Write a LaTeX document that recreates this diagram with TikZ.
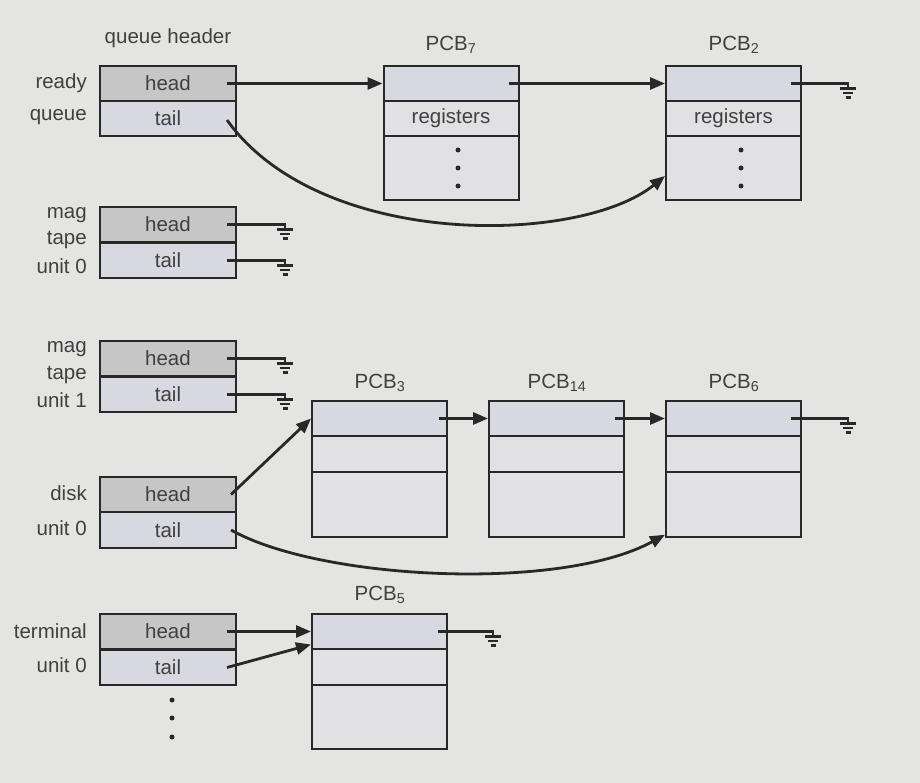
\documentclass[tikz,border=0pt]{standalone}
\usepackage{fontspec}
\setmainfont{Liberation Sans}
\usetikzlibrary{arrows.meta}
\definecolor{bg}{HTML}{E4E4E3}
\definecolor{headfill}{HTML}{C6C6C6}
\definecolor{tailfill}{HTML}{D8D8E0}
\definecolor{pcbtop}{HTML}{D8D8E0}
\definecolor{pcbrow}{HTML}{E1E1E3}
\definecolor{ink}{HTML}{282828}
\definecolor{txt}{HTML}{404040}
\begin{document}
\begin{tikzpicture}[x=1pt,y=-1pt,
  font=\fontsize{20.5}{24}\selectfont,
  cell/.style={draw=ink, line width=2pt, minimum width=136pt, minimum height=35.5pt, inner sep=0pt, text=txt},
  hcell/.style={cell, fill=headfill},
  tcell/.style={cell, fill=tailfill},
  ptop/.style={cell, minimum width=135pt, minimum height=35pt, fill=pcbtop},
  prow/.style={cell, minimum width=135pt, minimum height=35.5pt, fill=pcbrow},
  pbig/.style={cell, minimum width=135pt, minimum height=64.5pt, fill=pcbrow},
  lbl/.style={text=txt, inner sep=0pt},
  conn/.style={draw=ink, line width=2.8pt, -{Triangle[length=15pt,width=12pt]}},
  gline/.style={draw=ink, line width=2.8pt},
  dot/.style={fill=ink, draw=none, circle, minimum size=5pt, inner sep=0pt},
  gnd/.pic={\draw[ink, line width=2.6pt] (0,-1.3) -- (0,5) (-8,5) -- (8,5) (-5,9.5) -- (5,9.5) (-2.5,14) -- (2.5,14);}
]
\useasboundingbox (0,0) rectangle (920,783);
\fill[bg] (0,0) rectangle (920,783);

% queue headers
\node[lbl] (qh) at (168,38) {queue header};

\node[hcell] (rh) at (168,83.5) {head};
\node[tcell] (rt) at (168,118.5) {tail};
\node[lbl, anchor=east] (l1a) at (87,83) {ready};
\node[lbl, anchor=east] (l1b) at (87,117) {queue};

\node[hcell] (m0h) at (168,224.5) {head};
\node[tcell] (m0t) at (168,260.5) {tail};
\node[lbl, anchor=east] (l2a) at (87,215) {mag};
\node[lbl, anchor=east] (l2b) at (87,240) {tape};
\node[lbl, anchor=east] (l2c) at (87,266) {unit 0};

\node[hcell] (m1h) at (168,358.5) {head};
\node[tcell] (m1t) at (168,394.5) {tail};
\node[lbl, anchor=east] (l3a) at (87,349) {mag};
\node[lbl, anchor=east] (l3b) at (87,375) {tape};
\node[lbl, anchor=east] (l3c) at (87,400) {unit 1};

\node[hcell] (dh) at (168,494.5) {head};
\node[tcell] (dt) at (168,530) {tail};
\node[lbl, anchor=east] (l4a) at (87,493) {disk};
\node[lbl, anchor=east] (l4b) at (87,528) {unit 0};

\node[hcell] (th) at (168,631.5) {head};
\node[tcell] (tt) at (168,667.5) {tail};
\node[lbl, anchor=east] (l5a) at (87,631) {terminal};
\node[lbl, anchor=east] (l5b) at (87,665) {unit 0};

\node[dot] (d1) at (172,700) {};
\node[dot] (d2) at (172,718) {};
\node[dot] (d3) at (172,737) {};

% PCB7
\node[lbl] (n7) at (451,45) {PCB\textsubscript{7}};
\node[ptop] (p7a) at (451,83.5) {};
\node[prow] (p7b) at (451,118.5) {registers};
\node[pbig] (p7c) at (451,168) {};
\node[dot] (p7d1) at (458,150) {};
\node[dot] (p7d2) at (458,168) {};
\node[dot] (p7d3) at (458,186) {};

% PCB2
\node[lbl] (n2) at (734,45) {PCB\textsubscript{2}};
\node[ptop] (p2a) at (733.5,83.5) {};
\node[prow] (p2b) at (733.5,118.5) {registers};
\node[pbig] (p2c) at (733.5,168) {};
\node[dot] (p2d1) at (741,150) {};
\node[dot] (p2d2) at (741,168) {};
\node[dot] (p2d3) at (741,186) {};

% PCB3, PCB14, PCB6
\node[lbl] (n3) at (380,383) {PCB\textsubscript{3}};
\node[ptop] (p3a) at (379.5,418.5) {};
\node[prow] (p3b) at (379.5,454) {};
\node[pbig] (p3c) at (379.5,504.5) {};

\node[lbl] (n14) at (557,383) {PCB\textsubscript{14}};
\node[ptop] (p14a) at (556.5,418.5) {};
\node[prow] (p14b) at (556.5,454) {};
\node[pbig] (p14c) at (556.5,504.5) {};

\node[lbl] (n6) at (734,383) {PCB\textsubscript{6}};
\node[ptop] (p6a) at (733.5,418.5) {};
\node[prow] (p6b) at (733.5,454) {};
\node[pbig] (p6c) at (733.5,504.5) {};

% PCB5
\node[lbl] (n5) at (380,595) {PCB\textsubscript{5}};
\node[ptop] (p5a) at (379.5,631.5) {};
\node[prow] (p5b) at (379.5,667) {};
\node[pbig] (p5c) at (379.5,717) {};

% ground coordinates
\coordinate (g2) at (848,83.5);
\coordinate (g6) at (848,418.5);
\coordinate (g5) at (493,631.5);
\coordinate (gm0h) at (285,224.5);
\coordinate (gm0t) at (285,260.5);
\coordinate (gm1h) at (285,358.5);
\coordinate (gm1t) at (285,394.5);

% ready queue
\draw[conn] ([xshift=-10pt]rh.east) -- (p7a.west);
\draw[conn] ([xshift=-11pt]p7a.east) -- (p2a.west);
\draw[gline] ([xshift=-11pt]p2a.east) -- (g2);
\pic at (g2) {gnd};
\draw[conn] ([xshift=-10pt,yshift=-1.5pt]rt.east) .. controls (320,250) and (580,245) .. ([yshift=-8pt]p2c.west);

% mag tapes
\draw[gline] ([xshift=-10pt]m0h.east) -- (gm0h);
\pic at (gm0h) {gnd};
\draw[gline] ([xshift=-10pt]m0t.east) -- (gm0t);
\pic at (gm0t) {gnd};
\draw[gline] ([xshift=-10pt]m1h.east) -- (gm1h);
\pic at (gm1h) {gnd};
\draw[gline] ([xshift=-10pt]m1t.east) -- (gm1t);
\pic at (gm1t) {gnd};

% disk
\draw[conn] ([xshift=-6pt]dh.east) -- (p3a.west);
\draw[conn] ([xshift=-9pt]p3a.east) -- (p14a.west);
\draw[conn] ([xshift=-10pt]p14a.east) -- (p6a.west);
\draw[gline] ([xshift=-11pt]p6a.east) -- (g6);
\pic at (g6) {gnd};
\draw[conn] ([xshift=-6pt]dt.east) .. controls (320,580) and (560,592) .. ([yshift=3pt]p6c.south west);

% terminal
\draw[conn] ([xshift=-10pt]th.east) -- (p5a.west);
\draw[conn] ([xshift=-10pt]tt.east) -- ([yshift=-13pt]p5a.west);
\draw[gline] ([xshift=-10pt]p5a.east) -- (g5);
\pic at (g5) {gnd};
\end{tikzpicture}
\end{document}
